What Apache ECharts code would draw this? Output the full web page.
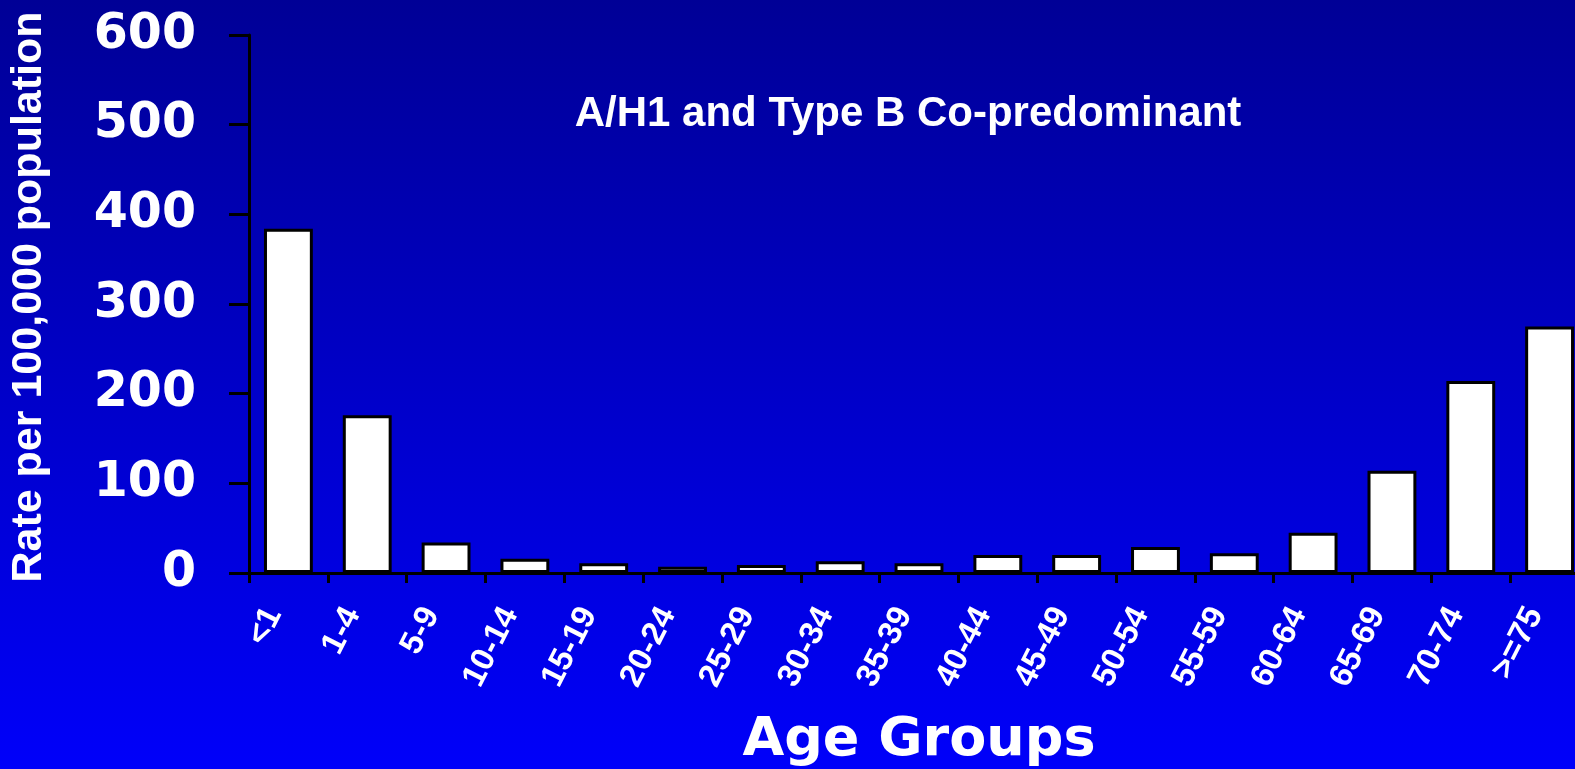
<!DOCTYPE html>
<html>
<head>
<meta charset="utf-8">
<script src="https://cdn.jsdelivr.net/npm/echarts@6/dist/echarts.min.js"></script>
<style>
html,body{margin:0;padding:0;background:#0000c8;}
#chart{width:1575px;height:769px;}
</style>
</head>
<body>
<div id="chart"></div>
<script>
const categories = ['<1','1-4','5-9','10-14','15-19','20-24','25-29','30-34','35-39','40-44','45-49','50-54','55-59','60-64','65-69','70-74','>=75'];
const rates = [384, 176, 34, 16, 11, 7, 9, 13, 11, 20, 20, 29, 22, 45, 114, 214, 275];
const yTicks = [0, 100, 200, 300, 400, 500, 600];
const chartTitle = 'A/H1 and Type B Co-predominant';
const xName = 'Age Groups';
const yName = 'Rate per 100,000 population';

const chart = echarts.init(document.getElementById('chart'));
chart.setOption({
  animation: false,
  backgroundColor: {
    type: 'linear', x: 0, y: 0, x2: 0, y2: 1,
    colorStops: [{offset: 0, color: '#000096'}, {offset: 1, color: '#0000fa'}]
  },
  title: {
    text: chartTitle,
    left: 903, top: 88, textAlign: 'center',
    textStyle: {color: '#fff', fontFamily: 'Liberation Sans', fontWeight: 'bold', fontSize: 42}
  },
  grid: {left: 249, top: 35, width: 1340, height: 538, containLabel: false, outerBoundsMode: 'none'},
  xAxis: {
    type: 'category',
    data: categories,
    name: xName,
    nameLocation: 'middle',
    nameGap: 168,
    nameTextStyle: {color: '#fff', fontFamily: 'DejaVu Sans', fontWeight: 'bold', fontSize: 54, verticalAlign: 'middle'},
    axisLine: {lineStyle: {color: '#000', width: 3}},
    axisTick: {show: true, length: 10, lineStyle: {color: '#000', width: 3}},
    axisLabel: {color: '#fff', fontFamily: 'Liberation Sans', fontWeight: 'bold', fontSize: 33, rotate: 63, margin: 44, interval: 0, verticalAlign: 'bottom'}
  },
  yAxis: {
    type: 'value',
    min: yTicks[0], max: yTicks[yTicks.length - 1], interval: 100,
    name: yName,
    nameLocation: 'middle',
    nameRotate: 90,
    nameGap: 220,
    nameTextStyle: {color: '#fff', fontFamily: 'Liberation Sans', fontWeight: 'bold', fontSize: 43, verticalAlign: 'middle', padding: [0, 0, 0, 14]},
    axisLine: {show: true, lineStyle: {color: '#000', width: 3}},
    axisTick: {show: true, length: 20, lineStyle: {color: '#000', width: 3}},
    splitLine: {show: false},
    axisLabel: {color: '#fff', fontFamily: 'DejaVu Sans', fontWeight: 'bold', fontSize: 49, margin: 53}
  },
  series: [{
    type: 'bar',
    data: rates,
    barWidth: '62%',
    itemStyle: {color: '#fff', borderColor: '#000', borderWidth: 3}
  }]
});
</script>
</body>
</html>
